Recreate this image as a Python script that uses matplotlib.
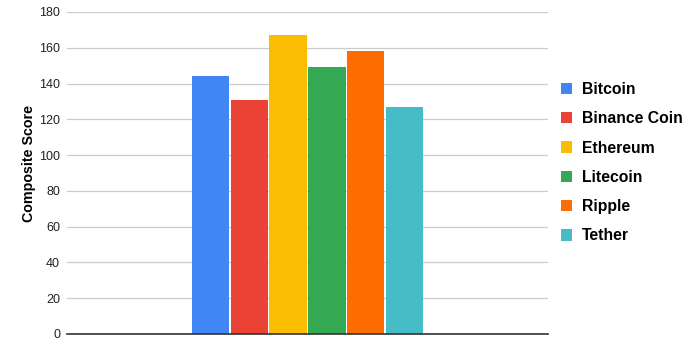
import matplotlib
matplotlib.use("Agg")
import matplotlib.pyplot as plt
import numpy as np

plt.rcParams['font.family'] = ['Liberation Sans', 'DejaVu Sans']

coins = ["Bitcoin", "Binance Coin", "Ethereum", "Litecoin", "Ripple", "Tether"]
scores = [144, 131, 167, 149, 158, 127]
colors = ["#4285F4", "#EA4335", "#FBBC04", "#34A853", "#FF6D01", "#46BDC6"]
yticks = [0, 20, 40, 60, 80, 100, 120, 140, 160, 180]

fig = plt.figure(figsize=(6.88, 3.41), dpi=100)
ax = fig.add_axes([67/688, 1-334/341, (548-67)/688, (334-12)/341])

pos = np.arange(len(coins)) - (len(coins) - 1) / 2
for p, s, c, name in zip(pos, scores, colors, coins):
    ax.bar(p, s, width=0.95, color=c, label=name, zorder=3)

ax.set_xlim(-6.17, 6.17)
ax.set_ylim(0, 180)
ax.set_yticks(yticks)
ax.set_xticks([])
ax.grid(axis='y', color='#cccccc', linewidth=0.9, zorder=0)
for side in ['top', 'right', 'left']:
    ax.spines[side].set_visible(False)
ax.spines['bottom'].set_color('#333333')
ax.spines['bottom'].set_linewidth(1.2)
ax.spines['bottom'].set_zorder(4)
ax.tick_params(axis='y', length=0, labelsize=9, labelcolor='#222222', pad=5)
ax.set_ylabel("Composite Score", fontsize=10.3, fontweight='bold')
ax.yaxis.set_label_coords(-0.0645, 0.528)

ax.legend(loc='upper left', bbox_to_anchor=(561/688, 1-82/341),
          bbox_transform=fig.transFigure, frameon=False,
          prop={'size': 11.3, 'weight': 'bold'}, handlelength=0.72,
          handleheight=0.72, handletextpad=0.62, labelspacing=0.91,
          borderpad=0, borderaxespad=0)

fig.savefig("out.png", dpi=100)
